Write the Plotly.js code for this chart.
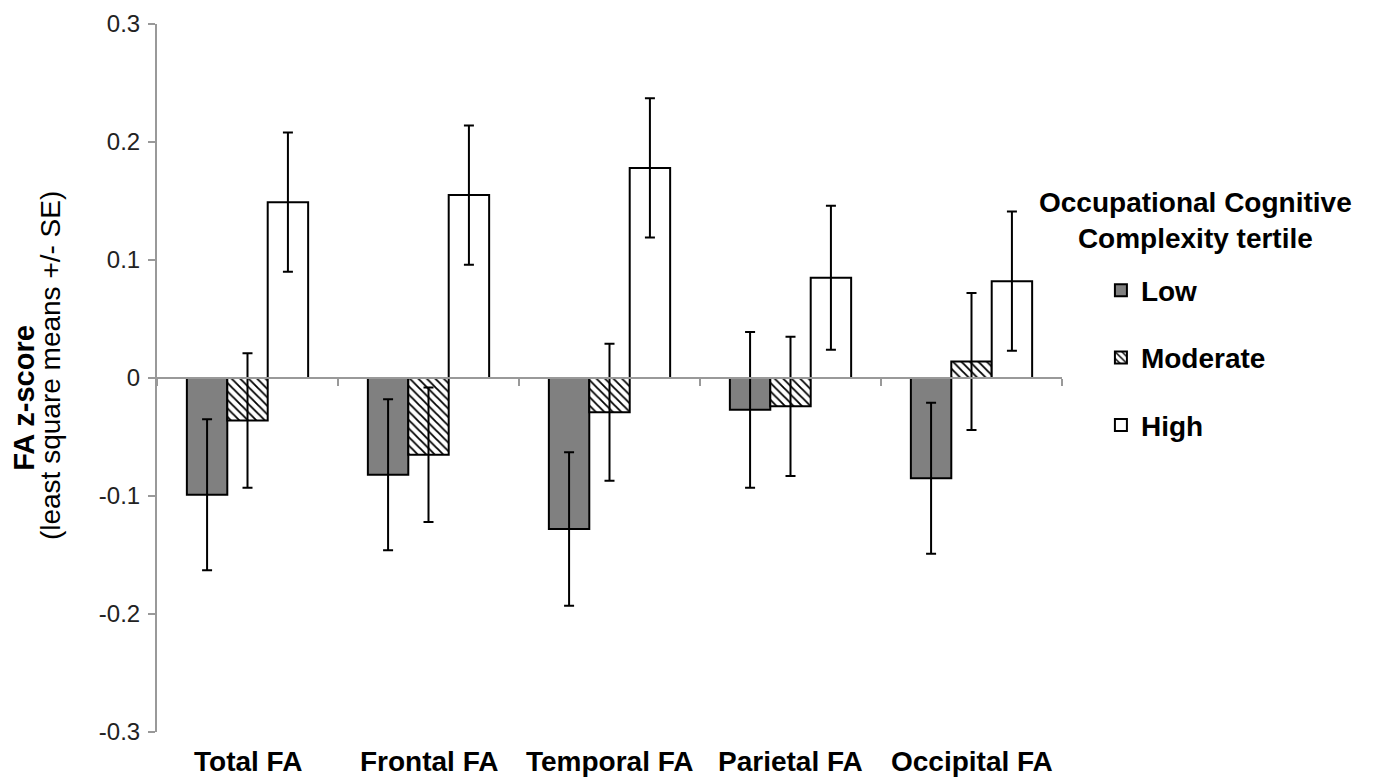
<!DOCTYPE html>
<html>
<head>
<meta charset="utf-8">
<script src="https://cdn.plot.ly/plotly-3.0.1.min.js"></script>
<style>html,body{margin:0;padding:0;background:#fff;}#chart{width:1378px;height:783px;}</style>
</head>
<body>
<div id="chart"></div>
<script>
const categories = ["Total FA", "Frontal FA", "Temporal FA", "Parietal FA", "Occipital FA"];
const lowValues = [-0.099, -0.082, -0.128, -0.027, -0.085];
const lowErrors = [0.064, 0.064, 0.065, 0.066, 0.064];
const moderateValues = [-0.036, -0.065, -0.029, -0.024, 0.014];
const moderateErrors = [0.057, 0.057, 0.058, 0.059, 0.058];
const highValues = [0.149, 0.155, 0.178, 0.085, 0.082];
const highErrors = [0.059, 0.059, 0.059, 0.061, 0.059];
const yTickValues = [0.3, 0.2, 0.1, 0, -0.1, -0.2, -0.3];
const yTickLabels = ["0.3", "0.2", "0.1", "0", "-0.1", "-0.2", "-0.3"];
const seriesNames = ["Low", "Moderate", "High"];
const legendTitle = "Occupational Cognitive<br>Complexity tertile";
const yTitleMain = "FA z-score";
const yTitleSub = "(least square means +/- SE)";

const FONT = "Liberation Sans, Arial, sans-serif";
const errStyle = (arr) => ({type: "data", array: arr, visible: true, color: "#000", thickness: 2, width: 5});
const lineStyle = {color: "#000", width: 2};

const traces = [
  {type: "bar", name: seriesNames[0], x: categories, y: lowValues, legendgroup: "a",
   marker: {color: "#808080", line: lineStyle}, error_y: errStyle(lowErrors)},
  {type: "bar", name: seriesNames[1], x: categories, y: moderateValues, legendgroup: "b",
   marker: {color: "#ffffff", line: lineStyle,
            pattern: {shape: "\\", fgcolor: "#000", bgcolor: "#fff", size: 6, solidity: 0.3}},
   error_y: errStyle(moderateErrors)},
  {type: "bar", name: seriesNames[2], x: categories, y: highValues, legendgroup: "c",
   marker: {color: "#ffffff", line: lineStyle}, error_y: errStyle(highErrors)}
];

const annotations = categories.map(c => ({
  x: c, xref: "x", y: -0.042, yref: "paper", text: "<b>" + c + "</b>",
  showarrow: false, xanchor: "center", yanchor: "middle",
  font: {family: FONT, size: 28, color: "#000"}
}));
annotations.push({
  x: -0.147, xref: "paper", y: 0.472, yref: "paper", text: "<b>" + yTitleMain + "</b>",
  textangle: -90, showarrow: false, xanchor: "center", yanchor: "middle",
  font: {family: FONT, size: 29, color: "#000"}
});
annotations.push({
  x: -0.117, xref: "paper", y: 0.517, yref: "paper", text: yTitleSub,
  textangle: -90, showarrow: false, xanchor: "center", yanchor: "middle",
  font: {family: FONT, size: 28, color: "#000"}
});
annotations.push({
  x: 1.148, xref: "paper", y: 0.722, yref: "paper", text: "<b>" + legendTitle + "</b>",
  showarrow: false, xanchor: "center", yanchor: "middle", align: "center",
  font: {family: FONT, size: 28, color: "#000"}
});

const layout = {
  width: 1378, height: 783,
  margin: {l: 157, r: 316, t: 24, b: 51},
  paper_bgcolor: "#fff", plot_bgcolor: "#fff",
  font: {family: FONT, color: "#000"},
  barmode: "group", bargap: 0.33, bargroupgap: 0,
  showlegend: true,
  legend: {
    x: 1.043, xanchor: "left", y: 0.659, yanchor: "top",
    font: {family: FONT, size: 28, color: "#000", weight: "bold"},
    traceorder: "grouped", tracegroupgap: 28, itemwidth: 30,
    bgcolor: "rgba(0,0,0,0)"
  },
  xaxis: {
    type: "category", range: [-0.5, 4.5], anchor: "free", position: 0.5,
    showline: true, linecolor: "#999", linewidth: 2,
    ticks: "outside", tickson: "boundaries", ticklen: 7, tickcolor: "#999", tickwidth: 2,
    showticklabels: false, showgrid: false, zeroline: false, fixedrange: true
  },
  yaxis: {
    range: [-0.3, 0.3], tickvals: yTickValues, ticktext: yTickLabels,
    showline: true, linecolor: "#999", linewidth: 2,
    ticks: "outside", ticklen: 7, tickcolor: "#999", tickwidth: 2,
    ticklabelstandoff: 3,
    tickfont: {family: FONT, size: 24, color: "#222"},
    showgrid: false, zeroline: false, fixedrange: true
  },
  annotations: annotations
};

Plotly.newPlot("chart", traces, layout, {displayModeBar: false, staticPlot: true});
</script>
</body>
</html>
